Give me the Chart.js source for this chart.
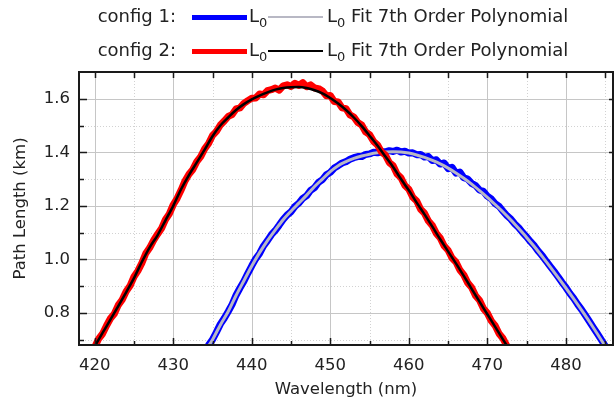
<!DOCTYPE html>
<html>
<head>
<meta charset="utf-8">
<script src="https://cdn.jsdelivr.net/npm/chart.js@4.4.1/dist/chart.umd.min.js"></script>
<style>
  body { margin: 0; background: #fff; font-family: "DejaVu Sans", sans-serif; color: #222; }
  #wrap { position: relative; width: 614px; height: 401px; }
  .lg { position: absolute; font-size: 18px; line-height: 20px; white-space: nowrap; }
  .sw { position: absolute; }
  sub { font-size: 13px; vertical-align: -5px; line-height: 0; }
</style>
</head>
<body>
<div id="wrap">
  <canvas id="chart"></canvas>
  <div id="legend"></div>
</div>
<script>
// 數據：量測 L0（每 0.5 nm）與 7 次多項式擬合（每 1 nm）
const redX = [420,420.5,421,421.5,422,422.5,423,423.5,424,424.5,425,425.5,426,426.5,427,427.5,428,428.5,429,429.5,
  430,430.5,431,431.5,432,432.5,433,433.5,434,434.5,435,435.5,436,436.5,437,437.5,438,438.5,439,439.5,
  440,440.5,441,441.5,442,442.5,443,443.5,444,444.5,445,445.5,446,446.5,447,447.5,448,448.5,449,449.5,
  450,450.5,451,451.5,452,452.5,453,453.5,454,454.5,455,455.5,456,456.5,457,457.5,458,458.5,459,459.5,
  460,460.5,461,461.5,462,462.5,463,463.5,464,464.5,465,465.5,466,466.5,467,467.5,468,468.5,469,469.5,
  470,470.5,471,471.5,472,472.5,473];
const redY = [0.672,0.703,0.722,0.752,0.779,0.797,0.829,0.849,0.880,0.901,0.935,0.957,0.986,1.022,1.043,1.071,1.094,1.115,1.148,1.170,
  1.204,1.228,1.259,1.293,1.318,1.336,1.365,1.384,1.413,1.433,1.463,1.478,1.502,1.517,1.534,1.541,1.562,1.566,1.583,1.593,
  1.602,1.603,1.618,1.615,1.630,1.634,1.640,1.632,1.648,1.652,1.646,1.658,1.650,1.660,1.645,1.652,1.640,1.638,1.629,1.611,
  1.612,1.590,1.588,1.566,1.563,1.540,1.532,1.511,1.502,1.476,1.466,1.441,1.428,1.402,1.390,1.362,1.350,1.319,1.305,1.276,
  1.262,1.232,1.218,1.187,1.172,1.143,1.126,1.097,1.080,1.050,1.034,1.005,0.990,0.960,0.942,0.912,0.895,0.864,0.847,0.816,
  0.799,0.770,0.752,0.722,0.704,0.676,0.659];

const blueX = [434,434.5,435,435.5,436,436.5,437,437.5,438,438.5,439,439.5,
  440,440.5,441,441.5,442,442.5,443,443.5,444,444.5,445,445.5,446,446.5,447,447.5,448,448.5,449,449.5,
  450,450.5,451,451.5,452,452.5,453,453.5,454,454.5,455,455.5,456,456.5,457,457.5,458,458.5,459,459.5,
  460,460.5,461,461.5,462,462.5,463,463.5,464,464.5,465,465.5,466,466.5,467,467.5,468,468.5,469,469.5,
  470,470.5,471,471.5,472,472.5,473,473.5,474,474.5,475,475.5,476,476.5,477,477.5,478,478.5,479,479.5,
  480,480.5,481,481.5,482,482.5,483,483.5,484,484.5,485,485.5];
const blueY = [0.652,0.680,0.700,0.728,0.758,0.780,0.805,0.832,0.866,0.893,0.918,0.948,
  0.976,1.002,1.022,1.050,1.070,1.092,1.108,1.128,1.149,1.166,1.178,1.198,1.210,1.228,1.238,1.258,1.268,1.288,1.298,1.316,
  1.325,1.341,1.350,1.360,1.365,1.374,1.380,1.384,1.384,1.392,1.394,1.400,1.398,1.402,1.402,1.406,1.403,1.408,1.401,1.404,
  1.397,1.398,1.391,1.392,1.382,1.384,1.369,1.372,1.356,1.360,1.339,1.344,1.322,1.326,1.305,1.300,1.284,1.276,1.259,1.254,
  1.236,1.226,1.208,1.198,1.180,1.163,1.150,1.132,1.118,1.100,1.084,1.066,1.050,1.030,1.013,0.993,0.974,0.955,0.935,0.914,
  0.895,0.873,0.854,0.832,0.812,0.790,0.768,0.745,0.723,0.700,0.677,0.655];

const redFitX = [420,421,422,423,424,425,426,427,428,429,430,431,432,433,434,435,436,437,438,439,
  440,441,442,443,444,445,446,447,448,449,450,451,452,453,454,455,456,457,458,459,
  460,461,462,463,464,465,466,467,468,469,470,471,472,473];
const redFit = [0.675,0.725,0.775,0.825,0.877,0.930,0.990,1.045,1.090,1.145,1.200,1.262,1.315,1.362,1.410,1.460,1.500,1.530,1.558,1.580,
  1.598,1.612,1.624,1.634,1.640,1.643,1.644,1.640,1.632,1.620,1.603,1.582,1.558,1.530,1.498,1.462,1.425,1.385,1.345,1.300,
  1.258,1.212,1.168,1.122,1.075,1.030,0.985,0.938,0.890,0.842,0.795,0.748,0.700,0.655];

const blueFitX = [434,435,436,437,438,439,440,441,442,443,444,445,446,447,448,449,
  450,451,452,453,454,455,456,457,458,459,460,461,462,463,464,465,466,467,468,469,
  470,471,472,473,474,475,476,477,478,479,480,481,482,483,484,485,486];
const blueFit = [0.655,0.700,0.755,0.805,0.865,0.920,0.975,1.025,1.070,1.110,1.148,1.180,1.210,1.240,1.272,1.300,
  1.328,1.350,1.365,1.377,1.386,1.393,1.398,1.401,1.402,1.401,1.397,1.390,1.381,1.370,1.357,1.341,1.323,1.303,1.281,1.257,
  1.232,1.205,1.177,1.147,1.115,1.082,1.047,1.010,0.972,0.933,0.893,0.852,0.810,0.767,0.722,0.676,0.630];

// 刻度
const xTicks = [420, 430, 440, 450, 460, 470, 480];
const xMinor = [425, 435, 445, 455, 465, 475, 485];
const yTicks = [0.8, 1.0, 1.2, 1.4, 1.6];
const yMinor = [0.7, 0.9, 1.1, 1.3, 1.5];

const legendRows = [
  { label: 'config 1:', dataColor: '#0000ff', fitColor: '#b8b8c4' },
  { label: 'config 2:', dataColor: '#ff0000', fitColor: '#000000' }
];

function pairs(xs, ys) { return xs.map((x, i) => ({ x: x, y: ys[i] })); }

// 格線、內向刻度與外框
const framePlugin = {
  id: 'framePlugin',
  beforeDatasetsDraw(chart) {
    const { ctx, chartArea: a, scales: { x, y } } = chart;
    ctx.save();
    ctx.lineWidth = 1;
    const vline = (v, major) => {
      const px = Math.round(x.getPixelForValue(v)) + 0.5;
      ctx.strokeStyle = major ? '#c6c6c6' : '#d2d2d2';
      ctx.setLineDash(major ? [] : [1, 2]);
      ctx.beginPath(); ctx.moveTo(px, a.top); ctx.lineTo(px, a.bottom); ctx.stroke();
    };
    const hline = (v, major) => {
      const py = Math.round(y.getPixelForValue(v)) + 0.5;
      ctx.strokeStyle = major ? '#c6c6c6' : '#d2d2d2';
      ctx.setLineDash(major ? [] : [1, 2]);
      ctx.beginPath(); ctx.moveTo(a.left, py); ctx.lineTo(a.right, py); ctx.stroke();
    };
    xMinor.forEach(v => vline(v, false));
    yMinor.forEach(v => hline(v, false));
    xTicks.forEach(v => vline(v, true));
    yTicks.forEach(v => hline(v, true));
    ctx.restore();
  },
  afterDatasetsDraw(chart) {
    const { ctx, chartArea: a, scales: { x, y } } = chart;
    ctx.save();
    ctx.strokeStyle = '#1a1a1a';
    ctx.lineWidth = 2;
    ctx.setLineDash([]);
    ctx.strokeRect(a.left, a.top, a.right - a.left, a.bottom - a.top);
    ctx.lineWidth = 1.5;
    ctx.beginPath();
    xTicks.concat(xMinor).forEach(v => {
      const px = Math.round(x.getPixelForValue(v)) + 0.5;
      const major = xTicks.includes(v);
      ctx.moveTo(px, a.bottom); ctx.lineTo(px, a.bottom - (major ? 7 : 4));
      ctx.moveTo(px, a.top); ctx.lineTo(px, a.top + 6);
    });
    yTicks.concat(yMinor).forEach(v => {
      const py = Math.round(y.getPixelForValue(v)) + 0.5;
      const major = yTicks.includes(v);
      ctx.moveTo(a.left, py); ctx.lineTo(a.left + (major ? 8 : 5), py);
      if (major) { ctx.moveTo(a.right, py); ctx.lineTo(a.right - 4, py); }
    });
    ctx.stroke();
    ctx.restore();
  }
};

const font = { family: '"DejaVu Sans", sans-serif', size: 16.5 };

const ctx = document.getElementById('chart').getContext('2d');
const chart = new Chart(ctx, {
  type: 'line',
  data: {
    datasets: [
      { label: 'L0 fit 2', data: pairs(redFitX, redFit), borderColor: legendRows[1].fitColor, borderWidth: 2.5,
        cubicInterpolationMode: 'monotone', order: 0 },
      { label: 'L0 2', data: pairs(redX, redY), borderColor: legendRows[1].dataColor, borderWidth: 7, order: 1 },
      { label: 'L0 fit 1', data: pairs(blueFitX, blueFit), borderColor: legendRows[0].fitColor, borderWidth: 3,
        cubicInterpolationMode: 'monotone', order: 2 },
      { label: 'L0 1', data: pairs(blueX, blueY), borderColor: legendRows[0].dataColor, borderWidth: 7, order: 3 }
    ]
  },
  options: {
    responsive: true,
    maintainAspectRatio: false,
    animation: false,
    layout: { padding: { top: 72, right: 1, left: 0, bottom: 0 } },
    elements: { point: { radius: 0 }, line: { fill: false, borderCapStyle: 'round', borderJoinStyle: 'round' } },
    datasets: { line: { clip: 0 } },
    plugins: { legend: { display: false }, tooltip: { enabled: false } },
    scales: {
      x: {
        type: 'linear', min: 418, max: 486,
        afterBuildTicks: s => { s.ticks = xTicks.map(v => ({ value: v })); },
        afterFit: s => { s.height = 56; },
        grid: { display: false, drawTicks: false, tickLength: 0 }, border: { display: false },
        ticks: { font: font, color: '#222', padding: 11, maxRotation: 0, autoSkip: false },
        title: { display: true, text: 'Wavelength (nm)', font: font, color: '#222', padding: { top: 0, bottom: 1 } }
      },
      y: {
        type: 'linear', min: 0.68, max: 1.70,
        afterBuildTicks: s => { s.ticks = yTicks.map(v => ({ value: v })); },
        afterFit: s => { s.width = 79; },
        grid: { display: false, drawTicks: false, tickLength: 0 }, border: { display: false },
        ticks: { font: font, color: '#222', padding: 9, callback: v => v.toFixed(1) },
        title: { display: true, text: 'Path Length (km)', font: font, color: '#222', padding: { top: 11, bottom: 0 } }
      }
    }
  },
  plugins: [framePlugin]
});

// 圖例（HTML，含下標）
const legend = document.getElementById('legend');
legendRows.forEach((r, i) => {
  const cy = i === 0 ? 17 : 51;
  const html =
    '<div class="lg" style="right:' + (614 - 176) + 'px;top:' + (cy - 11) + 'px">' + r.label + '</div>' +
    '<div class="sw" style="left:192px;width:55px;height:5px;top:' + (cy - 2) + 'px;background:' + r.dataColor + '"></div>' +
    '<div class="lg" style="left:249px;top:' + (cy - 11) + 'px">L<sub>0</sub></div>' +
    '<div class="sw" style="left:268px;width:55px;height:2px;top:' + (cy - 1) + 'px;background:' + r.fitColor + '"></div>' +
    '<div class="lg" style="left:327px;top:' + (cy - 11) + 'px">L<sub>0</sub> Fit 7th Order Polynomial</div>';
  legend.insertAdjacentHTML('beforeend', html);
});
</script>
</body>
</html>
